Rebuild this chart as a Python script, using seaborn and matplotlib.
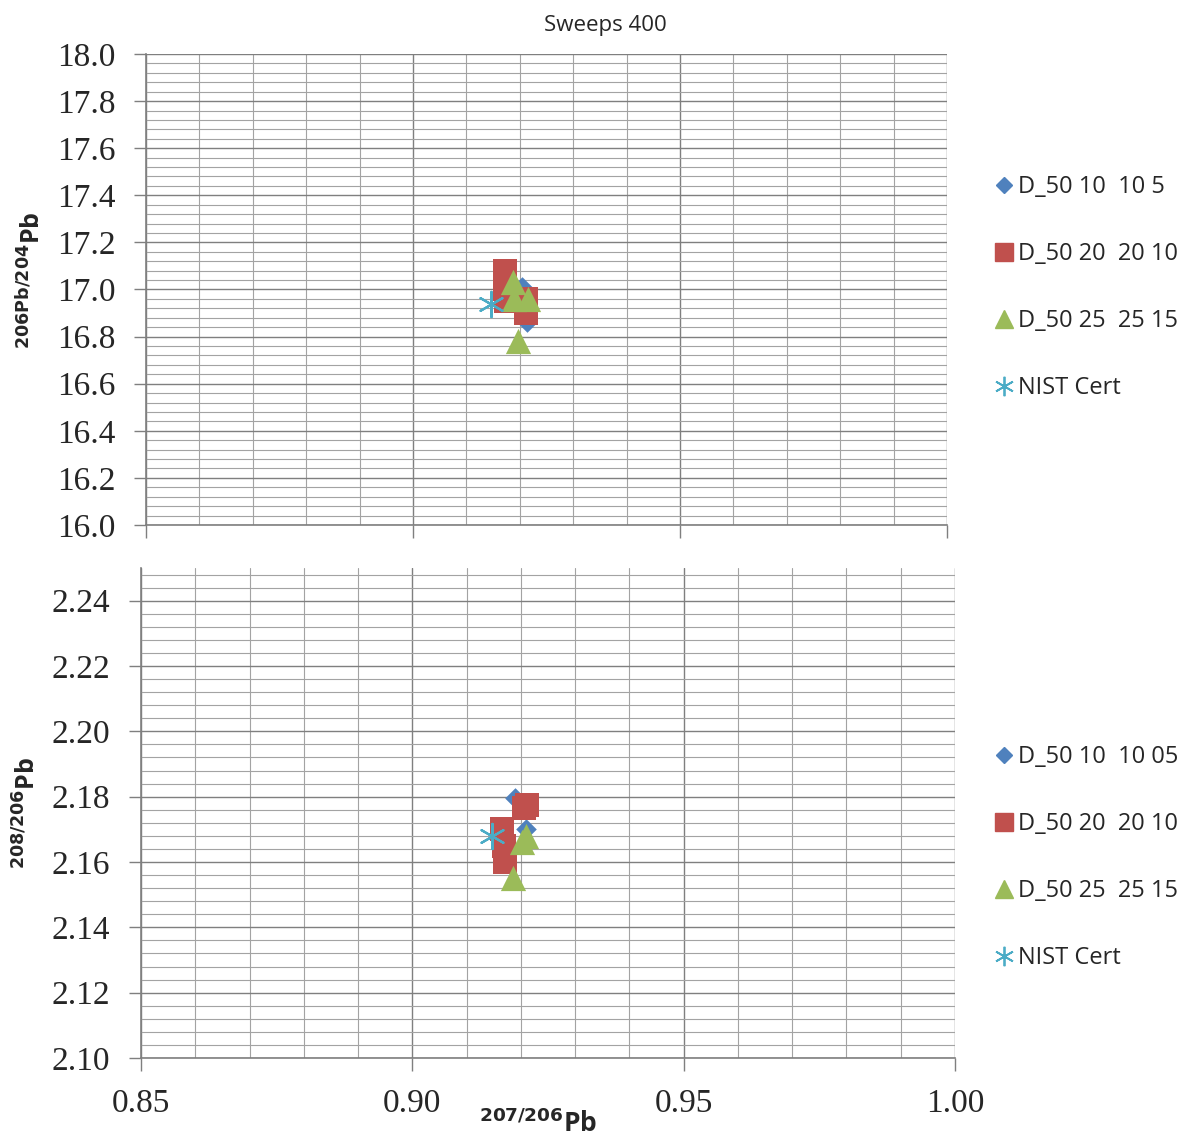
import matplotlib
matplotlib.use("Agg")
import matplotlib.pyplot as plt
from matplotlib.ticker import MultipleLocator, FormatStrFormatter, NullFormatter
from matplotlib.lines import Line2D
import seaborn as sns

title = "Sweeps 400"
labels_top = ["D_50 10  10 5", "D_50 20  20 10", "D_50 25  25 15", "NIST Cert"]
labels_bot = ["D_50 10  10 05", "D_50 20  20 10", "D_50 25  25 15", "NIST Cert"]

# 207Pb/206Pb (x) against 206Pb/204Pb (y)
d05_top_x = [0.9200, 0.9205, 0.9213]
d05_top_y = [16.96, 17.01, 16.86]
d10_top_x = [0.9172, 0.9172, 0.9175, 0.9212, 0.9212]
d10_top_y = [17.08, 17.00, 16.95, 16.96, 16.90]
d15_top_x = [0.9187, 0.9190, 0.9215, 0.9197]
d15_top_y = [17.03, 16.96, 16.96, 16.78]
nist_top_x = [0.91464]
nist_top_y = [16.937]

# 207Pb/206Pb (x) against 208Pb/206Pb (y)
d05_bot_x = [0.9189, 0.9210]
d05_bot_y = [2.1795, 2.1700]
d10_bot_x = [0.9211, 0.9206, 0.9165, 0.9168, 0.9170]
d10_bot_y = [2.1775, 2.1765, 2.1700, 2.1650, 2.1600]
d15_bot_x = [0.9210, 0.9202, 0.9185]
d15_bot_y = [2.1680, 2.1660, 2.1550]
nist_bot_x = [0.91464]
nist_bot_y = [2.1681]

colors = ["#4F81BD", "#C0504D", "#9BBB59", "#4BACC6"]
markers = ["D", "s", "^", (6, 2, 0)]
sizes = [110, 300, 330, 330]

sns.set_style("white")
plt.rcParams["font.family"] = ["Open Sans", "DejaVu Sans"]

fig = plt.figure(figsize=(11.84, 11.37), dpi=100)
ax1 = fig.add_axes([0.1233, 0.5383, 0.6765, 0.4142])
ax2 = fig.add_axes([0.1191, 0.0695, 0.6875, 0.4309])


def draw(ax, series):
    for (xs, ys), c, m, s in zip(series, colors, markers, sizes):
        if isinstance(m, tuple):
            sns.scatterplot(x=xs, y=ys, ax=ax, marker=m, s=s, color=c,
                            linewidth=1.6, legend=False, zorder=3)
        else:
            sns.scatterplot(x=xs, y=ys, ax=ax, marker=m, s=s, color=c,
                            edgecolor=c, linewidth=0, legend=False, zorder=3)


def style_axes(ax, ylim, ymaj, ymin, yfmt):
    ax.set_xlim(0.85, 1.00)
    ax.set_ylim(*ylim)
    ax.xaxis.set_major_locator(MultipleLocator(0.05))
    ax.xaxis.set_minor_locator(MultipleLocator(0.01))
    ax.yaxis.set_major_locator(MultipleLocator(ymaj))
    ax.yaxis.set_minor_locator(MultipleLocator(ymin))
    ax.yaxis.set_major_formatter(FormatStrFormatter(yfmt))
    ax.xaxis.set_major_formatter(FormatStrFormatter("%.2f"))
    ax.grid(which="major", color="#7f7f7f", linewidth=1.0)
    ax.grid(which="minor", color="#a3a3a3", linewidth=0.8)
    ax.set_axisbelow(True)
    for side in ["top", "right"]:
        ax.spines[side].set_visible(False)
    for side in ["left", "bottom"]:
        ax.spines[side].set_color("#7f7f7f")
        ax.spines[side].set_linewidth(1.2)
    ax.tick_params(which="major", direction="out", length=9, width=1.0,
                   color="#7f7f7f", left=True, bottom=True, pad=13)
    ax.tick_params(which="minor", length=0)
    for lab in ax.get_yticklabels() + ax.get_xticklabels():
        lab.set_fontfamily("Liberation Serif")
        lab.set_fontsize(24)
    ax.set_xlabel("")
    ax.set_ylabel("")


draw(ax1, [(d05_top_x, d05_top_y), (d10_top_x, d10_top_y),
           (d15_top_x, d15_top_y), (nist_top_x, nist_top_y)])
draw(ax2, [(d05_bot_x, d05_bot_y), (d10_bot_x, d10_bot_y),
           (d15_bot_x, d15_bot_y), (nist_bot_x, nist_bot_y)])

style_axes(ax1, (16.0, 18.0), 0.2, 0.04, "%.1f")
style_axes(ax2, (2.10, 2.25), 0.02, 0.004, "%.2f")
ax1.xaxis.set_major_formatter(NullFormatter())

fig.text(0.511, 0.978, title, ha="center", va="center", fontsize=16)

ax1.set_ylabel(r"$^{\mathbf{206}\mathbf{Pb/204}}$Pb", fontsize=18,
               fontweight="bold")
ax2.set_ylabel(r"$^{\mathbf{208/206}}$Pb", fontsize=18,
               fontweight="bold")
ax2.set_xlabel(r"$^{\mathbf{207/206}}$Pb", fontsize=19,
               fontweight="bold")
ax1.yaxis.set_label_coords(-0.125, 0.52)
ax2.yaxis.set_label_coords(-0.122, 0.5)
ax2.xaxis.set_label_coords(0.488, -0.105)


def legend_handles(labels):
    hs = []
    for c, m, s in zip(colors, markers, [8, 13, 13, 14]):
        if isinstance(m, tuple):
            hs.append(Line2D([], [], linestyle="none", marker=m, markersize=s,
                             markeredgecolor=c, markeredgewidth=1.3))
        else:
            hs.append(Line2D([], [], linestyle="none", marker=m, markersize=s,
                             markerfacecolor=c, markeredgecolor=c))
    return hs


for labels, yc in [(labels_top, 0.747), (labels_bot, 0.2455)]:
    fig.legend(legend_handles(labels), labels, loc="center left",
               bbox_to_anchor=(0.822, yc), frameon=False, fontsize=17,
               labelspacing=1.82, handlelength=0.8, handletextpad=0.2)

fig.savefig("out.png", dpi=100, facecolor="white")
